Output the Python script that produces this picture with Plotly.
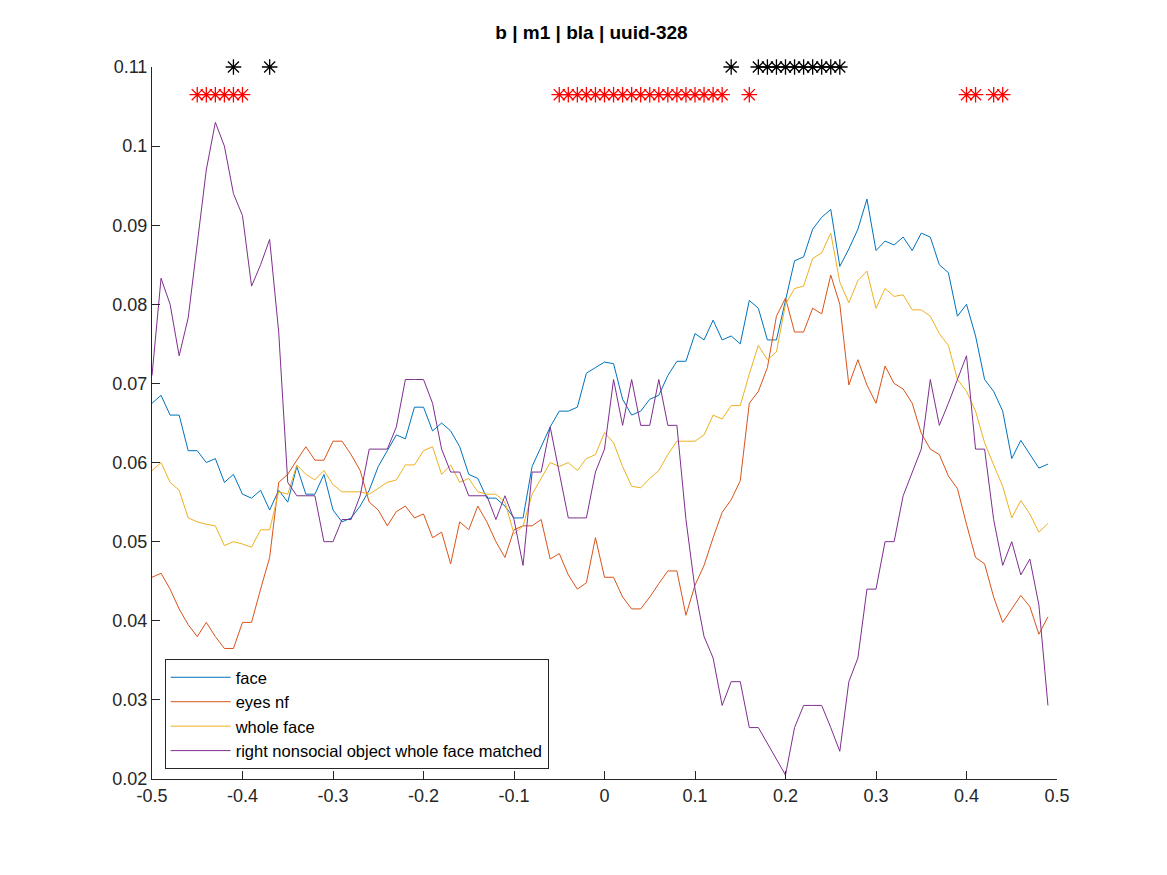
import plotly.graph_objects as go

x = [round(-0.5 + 0.01 * i, 2) for i in range(100)]

face = [0.0675, 0.0685, 0.066, 0.066, 0.0615, 0.0615, 0.060, 0.0605, 0.0575, 0.0585,
        0.056, 0.0555, 0.0565, 0.054, 0.0565, 0.055, 0.0595, 0.056, 0.056, 0.0585,
        0.054, 0.0525, 0.053, 0.0545, 0.0565, 0.0595, 0.0615, 0.0635, 0.063, 0.067,
        0.067, 0.064, 0.065, 0.064, 0.062, 0.0585, 0.058, 0.0555, 0.0555, 0.0545,
        0.053, 0.053, 0.0595, 0.062, 0.0645, 0.0665, 0.0665, 0.067, 0.0713, 0.072,
        0.0727, 0.0725, 0.068, 0.066, 0.0665, 0.068, 0.0685, 0.071, 0.0728, 0.0728,
        0.0763, 0.0755, 0.078, 0.0755, 0.076, 0.075, 0.0805, 0.0795, 0.0755, 0.0755,
        0.0805, 0.0855, 0.086, 0.0895, 0.091, 0.092, 0.0848, 0.087, 0.0895, 0.0933,
        0.0868, 0.088, 0.0875, 0.0885, 0.0868, 0.089, 0.0885, 0.085, 0.084, 0.0785,
        0.080, 0.076, 0.0705, 0.069, 0.0665, 0.0605, 0.0628, 0.061, 0.0593, 0.0598]

eyes_nf = [0.0455, 0.046, 0.044, 0.0415, 0.0395, 0.038, 0.0398, 0.038, 0.0365, 0.0365,
           0.0398, 0.0398, 0.044, 0.048, 0.0575, 0.0585, 0.0603, 0.062, 0.0603, 0.0603,
           0.0627, 0.0627, 0.061, 0.059, 0.055, 0.054, 0.052, 0.0538, 0.0545, 0.053,
           0.0535, 0.0505, 0.0512, 0.0472, 0.0525, 0.0515, 0.0545, 0.0525, 0.050, 0.048,
           0.0515, 0.052, 0.052, 0.0528, 0.0478, 0.0485, 0.0458, 0.044, 0.0448, 0.0505,
           0.0455, 0.0455, 0.043, 0.0415, 0.0415, 0.043, 0.0447, 0.0463, 0.0463, 0.0407,
           0.0445, 0.047, 0.0505, 0.0537, 0.0553, 0.0577, 0.0675, 0.069, 0.072, 0.0785,
           0.0808, 0.0765, 0.0765, 0.0795, 0.0788, 0.0837, 0.080, 0.0698, 0.073, 0.0698,
           0.0675, 0.0722, 0.070, 0.0693, 0.0675, 0.0637, 0.0617, 0.061, 0.0583, 0.0567,
           0.0522, 0.048, 0.0472, 0.043, 0.0398, 0.0415, 0.0432, 0.0418, 0.0383, 0.0405]

whole_face = [0.059, 0.060, 0.0575, 0.0565, 0.053, 0.0525, 0.0522, 0.052, 0.0495, 0.050,
              0.0497, 0.0493, 0.0515, 0.0515, 0.0563, 0.056, 0.0597, 0.0585, 0.0578, 0.059,
              0.0572, 0.0563, 0.0563, 0.0563, 0.056, 0.0568, 0.0575, 0.0578, 0.0597, 0.0597,
              0.0615, 0.062, 0.0585, 0.0597, 0.0575, 0.058, 0.0563, 0.056, 0.056, 0.055,
              0.051, 0.052, 0.056, 0.058, 0.060, 0.0595, 0.060, 0.059, 0.0605, 0.061,
              0.0638, 0.0625, 0.0595, 0.057, 0.0568, 0.058, 0.059, 0.061, 0.0627, 0.0627,
              0.0627, 0.0635, 0.066, 0.0655, 0.0672, 0.0672, 0.0712, 0.0748, 0.073, 0.074,
              0.080, 0.082, 0.0823, 0.0858, 0.0865, 0.089, 0.0828, 0.0802, 0.083, 0.0842,
              0.0795, 0.082, 0.081, 0.0812, 0.0793, 0.0793, 0.0785, 0.0763, 0.0748, 0.0705,
              0.069, 0.0665, 0.0625, 0.0597, 0.057, 0.053, 0.0552, 0.0535, 0.0512, 0.0523]

nonsocial = [0.071, 0.0833, 0.080, 0.0735, 0.0783, 0.0877, 0.097, 0.103, 0.100, 0.094,
             0.0912, 0.0823, 0.085, 0.0882, 0.0765, 0.0575, 0.0558, 0.0558, 0.0558, 0.050,
             0.050, 0.0528, 0.0528, 0.0558, 0.0617, 0.0617, 0.0617, 0.0645, 0.0705, 0.0705,
             0.0705, 0.0675, 0.0617, 0.0588, 0.0588, 0.0558, 0.0558, 0.0558, 0.0528, 0.0558,
             0.0528, 0.047, 0.0588, 0.0588, 0.0645, 0.0588, 0.053, 0.053, 0.053, 0.0588,
             0.0617, 0.0705, 0.0647, 0.0705, 0.0647, 0.0647, 0.0705, 0.0647, 0.0647, 0.0528,
             0.044, 0.038, 0.0353, 0.0293, 0.0323, 0.0323, 0.0265, 0.0265, 0.0245, 0.0225,
             0.0205, 0.0265, 0.0293, 0.0293, 0.0293, 0.0265, 0.0235, 0.0323, 0.0353, 0.044,
             0.044, 0.050, 0.050, 0.0558, 0.0588, 0.0617, 0.0705, 0.0647, 0.0675, 0.0705,
             0.0735, 0.0617, 0.0617, 0.0528, 0.047, 0.050, 0.0458, 0.0478, 0.042, 0.0293]

sig_black = [-0.41, -0.37, 0.14, 0.17, 0.18, 0.19, 0.20, 0.21, 0.22, 0.23, 0.24, 0.25, 0.26]
sig_red = [-0.45, -0.44, -0.43, -0.42, -0.41, -0.40,
           -0.05, -0.04, -0.03, -0.02, -0.01, 0.0, 0.01, 0.02, 0.03, 0.04, 0.05, 0.06,
           0.07, 0.08, 0.09, 0.10, 0.11, 0.12, 0.13, 0.16, 0.40, 0.41, 0.43, 0.44]

fig = go.Figure()
for name, ys, col in [("face", face, "#0072BD"), ("eyes nf", eyes_nf, "#D95319"),
                      ("whole face", whole_face, "#EDB120"),
                      ("right nonsocial object whole face matched", nonsocial, "#7E2F8E")]:
    fig.add_trace(go.Scatter(x=x, y=ys, name=name, mode="lines", line=dict(color=col, width=1)))

fig.add_trace(go.Scatter(x=sig_black, y=[0.11] * len(sig_black), mode="markers", showlegend=False,
                         cliponaxis=False,
                         marker=dict(symbol="asterisk", size=13, line=dict(color="black", width=1.3))))
fig.add_trace(go.Scatter(x=sig_red, y=[0.1065] * len(sig_red), mode="markers", showlegend=False,
                         marker=dict(symbol="asterisk", size=13, line=dict(color="red", width=1.3))))

axis = dict(showline=True, linecolor="#262626", ticks="inside", ticklen=8, tickcolor="#262626",
            showgrid=False, zeroline=False, tickfont=dict(size=18, color="#262626"))
fig.update_layout(
    width=1167, height=875, plot_bgcolor="white", paper_bgcolor="white",
    font=dict(family="Liberation Sans, Arial", color="#262626"),
    margin=dict(l=144, r=118, t=59, b=104),
    title=dict(text="<b>b | m1 | bla | uuid-328</b>", x=0.5, xanchor="center", y=0.965, yanchor="bottom",
               font=dict(size=19, color="black")),
    xaxis=dict(range=[-0.5, 0.5], tickvals=[-0.5, -0.4, -0.3, -0.2, -0.1, 0, 0.1, 0.2, 0.3, 0.4, 0.5],
               ticktext=["-0.5", "-0.4", "-0.3", "-0.2", "-0.1", "0", "0.1", "0.2", "0.3", "0.4", "0.5"], **axis),
    yaxis=dict(range=[0.02, 0.11], tickvals=[0.02, 0.03, 0.04, 0.05, 0.06, 0.07, 0.08, 0.09, 0.1, 0.11],
               ticktext=["0.02", "0.03", "0.04", "0.05", "0.06", "0.07", "0.08", "0.09", "0.1", "0.11"], **axis),
    legend=dict(x=0.014, y=0.014, xanchor="left", yanchor="bottom", bordercolor="#262626", borderwidth=1,
                bgcolor="white", font=dict(size=16.5, color="black"), tracegroupgap=0, itemwidth=60),
)

fig.write_html("out.html")
